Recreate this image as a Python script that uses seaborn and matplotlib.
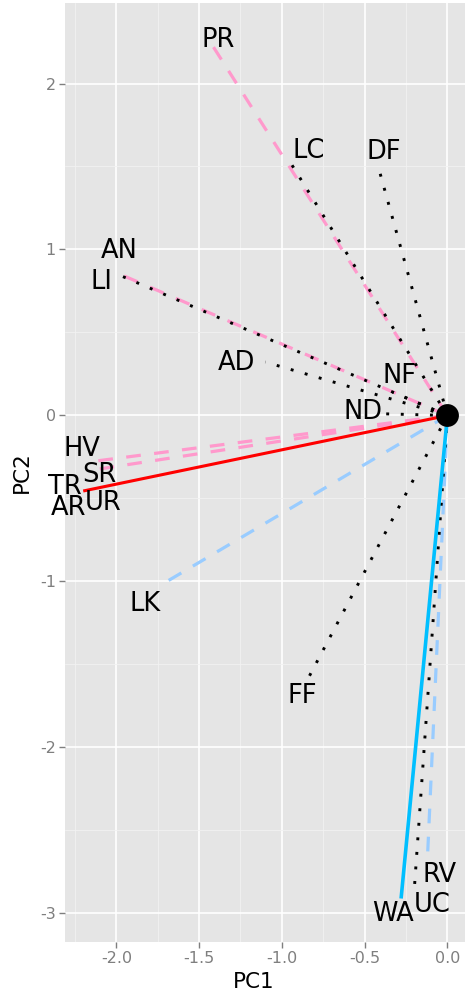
import matplotlib
matplotlib.use("Agg")
import matplotlib.pyplot as plt
import seaborn as sns
import pandas as pd

# Loading vectors (PC1, PC2) for each variable, drawn as rays from the origin
variables = ["PR", "AN", "HV", "SR", "LC", "DF", "LI", "AD", "NF", "ND",
             "FF", "UC", "TR", "LK", "RV", "WA"]
pc1 = [-1.42, -2.01, -2.12, -2.10, -0.94, -0.41, -1.98, -1.10, -0.33, -0.38,
       -0.85, -0.20, -2.20, -1.72, -0.12, -0.28]
pc2 = [2.23, 0.865, -0.274, -0.322, 1.51, 1.47, 0.845, 0.322, 0.14, 0.01,
       -1.60, -2.85, -0.455, -1.015, -2.65, -2.91]
group = ["pink", "pink", "pink", "pink", "dot", "dot", "dot", "dot", "dot", "dot",
         "dot", "dot", "red", "blue", "blue", "cyan"]

# Label positions
label_names = ["PR", "LC", "DF", "AN", "LI", "AD", "NF", "ND", "HV", "SR",
               "TR", "AR", "UR", "LK", "FF", "WA", "UC", "RV"]
label_x = [-1.386, -0.836, -0.383, -1.984, -2.092, -1.277, -0.287, -0.510, -2.207, -2.104,
           -2.310, -2.286, -2.080, -1.827, -0.879, -0.329, -0.094, -0.045]
label_y = [2.262, 1.593, 1.587, 0.993, 0.804, 0.316, 0.238, 0.021, -0.202, -0.358,
           -0.431, -0.557, -0.527, -1.136, -1.690, -3.003, -2.949, -2.768]

styles = {
    "pink": dict(color="#FF99CC", lw=2.3, dashes=(4.6, 4.2), z=2),
    "blue": dict(color="#99CCFF", lw=2.3, dashes=(4.6, 4.2), z=2),
    "dot": dict(color="black", lw=2.1, dashes=(1.0, 4.0), z=3),
    "red": dict(color="#FF0000", lw=2.2, dashes=None, z=4),
    "cyan": dict(color="#00BFFF", lw=2.6, dashes=None, z=4),
}

sns.set_theme(style="darkgrid")
plt.rcParams["font.family"] = ["DejaVu Sans"]

fig = plt.figure(figsize=(4.65, 9.94), dpi=100)
ax = fig.add_axes([65 / 465, 52 / 994, 400 / 465, 939 / 994])
ax.set_facecolor("#E5E5E5")

rays = pd.DataFrame({"var": variables, "PC1": pc1, "PC2": pc2, "group": group})
for _, r in rays.iterrows():
    st = styles[r["group"]]
    seg = pd.DataFrame({"PC1": [0.0, r["PC1"]], "PC2": [0.0, r["PC2"]]})
    line, = ax.plot(seg["PC1"], seg["PC2"], color=st["color"], lw=st["lw"],
                    zorder=st["z"], solid_capstyle="butt", dash_capstyle="butt")
    if st["dashes"] is not None:
        line.set_dashes(st["dashes"])

sns.scatterplot(x=[0.0], y=[0.0], s=270, color="black", ax=ax, zorder=6,
                linewidth=0, legend=False)

for name, lx, ly in zip(label_names, label_x, label_y):
    ax.text(lx, ly, name, fontsize=18.5, ha="center", va="center",
            color="black", zorder=7, clip_on=False)

ax.set_xlim(-2.310, 0.106)
ax.set_ylim(-3.172, 2.485)
ax.set_xticks([-2.0, -1.5, -1.0, -0.5, 0.0])
ax.set_xticklabels(["-2.0", "-1.5", "-1.0", "-0.5", "0.0"])
ax.set_yticks([-3, -2, -1, 0, 1, 2])
ax.set_yticklabels(["-3", "-2", "-1", "0", "1", "2"])
ax.set_xticks([-2.25, -1.75, -1.25, -0.75, -0.25], minor=True)
ax.set_yticks([-2.5, -1.5, -0.5, 0.5, 1.5], minor=True)
ax.grid(which="major", color="white", lw=1.2)
ax.grid(which="minor", color="#F2F2F2", lw=0.6)
ax.set_axisbelow(True)
for s in ax.spines.values():
    s.set_visible(False)
ax.tick_params(which="major", length=4.5, width=1.0, color="#7F7F7F",
               labelcolor="#7F7F7F", labelsize=11.5, pad=2,
               bottom=True, left=True)
ax.tick_params(which="minor", length=0)

ax.set_xlabel("PC1", fontsize=15.5, color="black")
ax.set_ylabel("PC2", fontsize=15.5, color="black")
ax.xaxis.set_label_coords(0.4725, -0.032)
ax.yaxis.set_label_coords(-0.083, 0.50)

fig.savefig("out.png", dpi=100)
